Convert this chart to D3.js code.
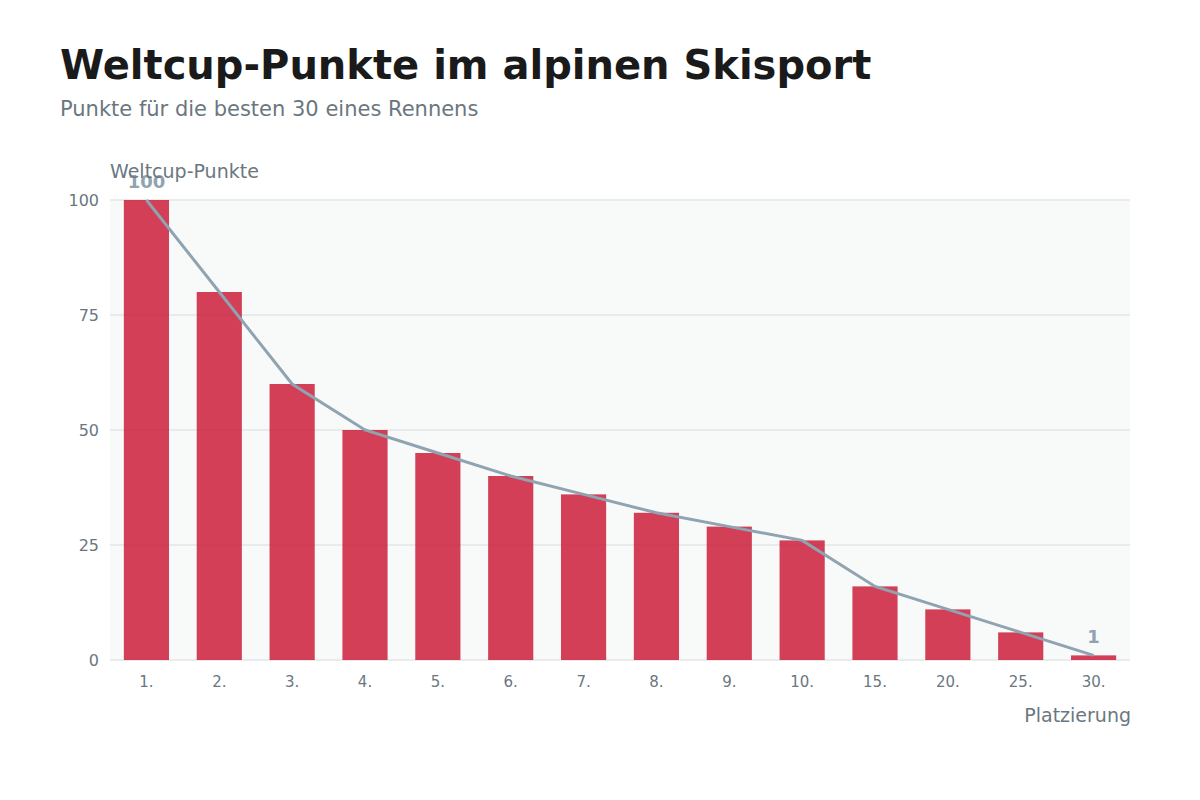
<!DOCTYPE html>
<html>
<head>
<meta charset="utf-8">
<script src="https://cdn.jsdelivr.net/npm/d3@7"></script>
<style>
  body { margin: 0; background: #fff; font-family: "DejaVu Sans", sans-serif; }
  .axis text { fill: #6b7780; }
  .axis path, .axis line { stroke: none; }
</style>
</head>
<body>
<div class="chart"></div>
<script>
// Weltcup-Punkte je Platzierung
const places = ["1.", "2.", "3.", "4.", "5.", "6.", "7.", "8.", "9.", "10.", "15.", "20.", "25.", "30."]
const points = [100, 80, 60, 50, 45, 40, 36, 32, 29, 26, 16, 11, 6, 1]
const yTicks = [0, 25, 50, 75, 100]

const data = places.map((p, i) => ({ place: p, value: points[i] }))

const margin = { top: 200, right: 70, bottom: 140, left: 110 }
const width = 1200 - margin.left - margin.right
const height = 800 - margin.top - margin.bottom

const root = d3.select(".chart")
  .append("svg")
  .attr("width", 1200)
  .attr("height", 800)

root.append("text")
  .attr("x", 60).attr("y", 79)
  .attr("font-size", 40).attr("font-weight", "bold")
  .attr("fill", "#1a1a1a")
  .text("Weltcup-Punkte im alpinen Skisport")

root.append("text")
  .attr("x", 60).attr("y", 116)
  .attr("font-size", 21)
  .attr("fill", "#6b7780")
  .text("Punkte für die besten 30 eines Rennens")

const svg = root.append("g")
  .attr("transform", "translate(" + margin.left + "," + margin.top + ")")

const xScale = d3.scaleBand()
  .domain(places)
  .range([0, width])
  .paddingInner(0.38)
  .paddingOuter(0.19)

const yScale = d3.scaleLinear()
  .domain([0, 100])
  .range([height, 0])

// plot background
svg.append("rect")
  .attr("width", width).attr("height", height)
  .attr("fill", "#f8fafa")

// grid
svg.selectAll(".grid")
  .data(yTicks)
  .join("line")
  .attr("class", "grid")
  .attr("x1", 0).attr("x2", width)
  .attr("y1", d => yScale(d)).attr("y2", d => yScale(d))
  .attr("stroke", "#e3e6e6")
  .attr("stroke-width", 1.5)

const yAxis = d3.axisLeft(yScale).tickValues(yTicks).tickSize(0).tickPadding(11)
svg.append("g")
  .attr("class", "axis y-axis")
  .call(yAxis)
  .selectAll("text")
  .attr("font-size", 16)
  .attr("font-family", "DejaVu Sans, sans-serif")

const xAxis = d3.axisBottom(xScale).tickSize(0).tickPadding(16)
svg.append("g")
  .attr("class", "axis x-axis")
  .attr("transform", `translate(0, ${height})`)
  .call(xAxis)
  .selectAll("text")
  .attr("font-size", 15)
  .attr("font-family", "DejaVu Sans, sans-serif")

// bars
svg.selectAll(".bar")
  .data(data)
  .join("rect")
  .attr("class", "bar")
  .attr("x", d => xScale(d.place))
  .attr("width", xScale.bandwidth())
  .attr("y", d => yScale(d.value))
  .attr("height", d => height - yScale(d.value))
  .attr("fill", "#c8102e")
  .attr("fill-opacity", 0.8)

// line
const line = d3.line()
  .x(d => xScale(d.place) + xScale.bandwidth() / 2)
  .y(d => yScale(d.value))

svg.append("path")
  .datum(data)
  .attr("d", line)
  .attr("fill", "none")
  .attr("stroke", "#8fa3b1")
  .attr("stroke-width", 3)

// end labels
const ends = [data[0], data[data.length - 1]]
svg.selectAll(".endlabel")
  .data(ends)
  .join("text")
  .attr("class", "endlabel")
  .attr("x", d => xScale(d.place) + xScale.bandwidth() / 2)
  .attr("y", d => yScale(d.value) - 12)
  .attr("text-anchor", "middle")
  .attr("font-size", 18).attr("font-weight", "bold")
  .attr("fill", "#8fa3b1")
  .text(d => d.value)

// axis titles
svg.append("text")
  .attr("x", 0).attr("y", -22)
  .attr("font-size", 19)
  .attr("fill", "#6b7780")
  .text("Weltcup-Punkte")

svg.append("text")
  .attr("x", width + 1).attr("y", height + 62)
  .attr("text-anchor", "end")
  .attr("font-size", 19)
  .attr("fill", "#6b7780")
  .text("Platzierung")
</script>
</body>
</html>
